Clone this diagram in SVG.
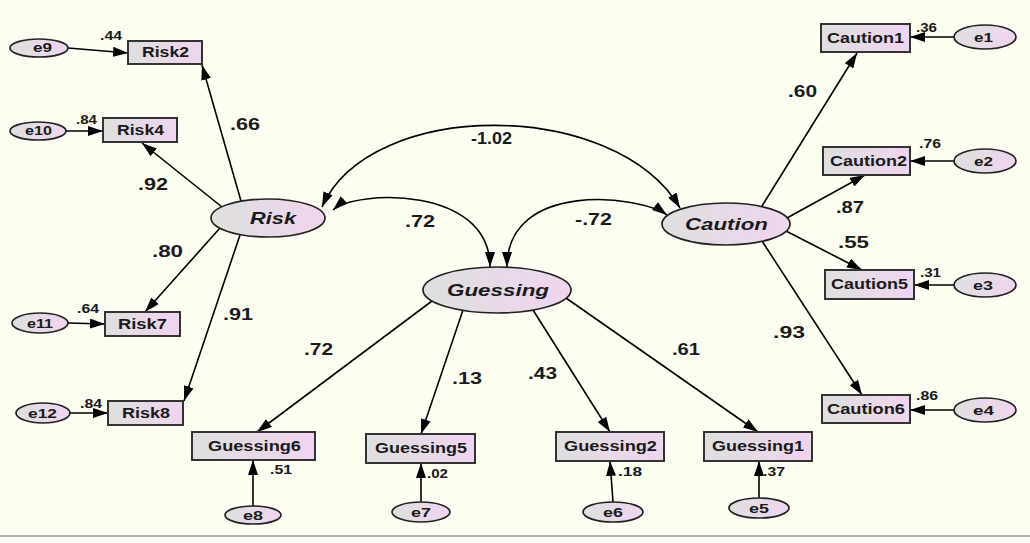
<svg xmlns="http://www.w3.org/2000/svg" width="1030" height="543" viewBox="0 0 1030 543">
<defs>
<linearGradient id="g" x1="0" y1="0" x2="1" y2="0">
<stop offset="0" stop-color="#dfdfdf"/>
<stop offset="1" stop-color="#efd5ef"/>
</linearGradient>
<marker id="ah" viewBox="0 0 15 10" refX="15" refY="5" markerWidth="15" markerHeight="10" markerUnits="userSpaceOnUse" orient="auto-start-reverse">
<path d="M0,0 L15,5 L0,10 z" fill="#000"/>
</marker>
</defs>
<style>
.box{fill:url(#g);stroke:#333;stroke-width:2}
.ell{fill:url(#g);stroke:#222;stroke-width:1.7}
text{font-family:"Liberation Sans",Arial,sans-serif;font-weight:bold;fill:#1a1a1a}
.ind{font-size:14px}
.lat{font-size:17px;font-style:italic}
.err{font-size:13px}
.load{font-size:16px}
.sm{font-size:12px}
.c line,.c path{stroke:#000;stroke-width:1.6;fill:none;marker-end:url(#ah)}
.c path{marker-start:url(#ah)}
</style>
<rect x="0" y="0" width="1030" height="543" fill="#fdfdf1"/>
<rect x="0" y="535" width="1030" height="2" fill="#b4b4ac"/>
<rect x="0" y="537" width="1030" height="6" fill="#fbfbf6"/>

<g id="connectors" class="c">
<path d="M322,207 C370,98 615,98 680,208"/>
<path d="M333,210 C355,190 490,185 490,267"/>
<path d="M507,267 C507,180 640,195 667,215"/>
<line x1="241" y1="201" x2="202" y2="65"/>
<line x1="222" y1="207" x2="142" y2="143"/>
<line x1="220" y1="228" x2="145" y2="312"/>
<line x1="240" y1="235" x2="184" y2="401"/>
<line x1="432" y1="301" x2="257" y2="432"/>
<line x1="463" y1="310" x2="421" y2="434"/>
<line x1="533" y1="310" x2="610" y2="432"/>
<line x1="566" y1="298" x2="758" y2="432"/>
<line x1="762" y1="206" x2="857" y2="53"/>
<line x1="787" y1="218" x2="865" y2="175"/>
<line x1="786" y1="231" x2="862" y2="270"/>
<line x1="762" y1="241" x2="862" y2="395"/>
<line x1="68" y1="48" x2="128" y2="53"/>
<line x1="66" y1="131" x2="103" y2="131"/>
<line x1="68" y1="323" x2="105" y2="324"/>
<line x1="70" y1="413" x2="108" y2="413"/>
<line x1="954" y1="37" x2="910" y2="37"/>
<line x1="954" y1="161" x2="910" y2="161"/>
<line x1="954" y1="285" x2="914" y2="285"/>
<line x1="954" y1="410" x2="910" y2="410"/>
<line x1="253" y1="506" x2="253" y2="460"/>
<line x1="421" y1="502" x2="421" y2="463"/>
<line x1="613" y1="502" x2="610" y2="461"/>
<line x1="759" y1="498" x2="759" y2="461"/>
</g>

<g id="Risk"><ellipse class="ell" cx="268" cy="218" rx="57" ry="19"/><text class="lat" x="250" y="224" textLength="46" lengthAdjust="spacingAndGlyphs">Risk</text></g>
<g id="Guessing"><ellipse class="ell" cx="497" cy="290" rx="74" ry="23"/><text class="lat" x="447" y="296" textLength="102" lengthAdjust="spacingAndGlyphs">Guessing</text></g>
<g id="Caution"><ellipse class="ell" cx="726" cy="224" rx="64" ry="21"/><text class="lat" x="685" y="230" textLength="83" lengthAdjust="spacingAndGlyphs">Caution</text></g>

<g id="Risk2"><rect class="box" x="128" y="41" width="74" height="23"/><text class="ind" x="142" y="57" textLength="47" lengthAdjust="spacingAndGlyphs">Risk2</text></g>
<g id="Risk4"><rect class="box" x="103" y="118" width="74" height="24"/><text class="ind" x="117" y="135" textLength="47" lengthAdjust="spacingAndGlyphs">Risk4</text></g>
<g id="Risk7"><rect class="box" x="105" y="312" width="75" height="24"/><text class="ind" x="118" y="329" textLength="49" lengthAdjust="spacingAndGlyphs">Risk7</text></g>
<g id="Risk8"><rect class="box" x="108" y="401" width="75" height="24"/><text class="ind" x="122" y="418" textLength="48" lengthAdjust="spacingAndGlyphs">Risk8</text></g>

<g id="Guessing6"><rect class="box" x="192" y="432" width="123" height="28"/><text class="ind" x="208" y="451" textLength="93" lengthAdjust="spacingAndGlyphs">Guessing6</text></g>
<g id="Guessing5"><rect class="box" x="366" y="434" width="109" height="29"/><text class="ind" x="375" y="453" textLength="92" lengthAdjust="spacingAndGlyphs">Guessing5</text></g>
<g id="Guessing2"><rect class="box" x="556" y="432" width="108" height="29"/><text class="ind" x="564" y="451" textLength="93" lengthAdjust="spacingAndGlyphs">Guessing2</text></g>
<g id="Guessing1"><rect class="box" x="704" y="432" width="108" height="29"/><text class="ind" x="712" y="451" textLength="92" lengthAdjust="spacingAndGlyphs">Guessing1</text></g>

<g id="Caution1"><rect class="box" x="821" y="24" width="89" height="28"/><text class="ind" x="827" y="43" textLength="77" lengthAdjust="spacingAndGlyphs">Caution1</text></g>
<g id="Caution2"><rect class="box" x="823" y="147" width="87" height="28"/><text class="ind" x="830" y="166" textLength="77" lengthAdjust="spacingAndGlyphs">Caution2</text></g>
<g id="Caution5"><rect class="box" x="825" y="270" width="89" height="29"/><text class="ind" x="831" y="289" textLength="77" lengthAdjust="spacingAndGlyphs">Caution5</text></g>
<g id="Caution6"><rect class="box" x="822" y="395" width="88" height="28"/><text class="ind" x="827" y="414" textLength="78" lengthAdjust="spacingAndGlyphs">Caution6</text></g>

<g id="e9"><ellipse class="ell" cx="39" cy="48" rx="29" ry="9"/><text class="err" x="33" y="52" textLength="19" lengthAdjust="spacingAndGlyphs">e9</text></g>
<g id="e10"><ellipse class="ell" cx="38" cy="131" rx="28" ry="9"/><text class="err" x="25" y="135" textLength="27" lengthAdjust="spacingAndGlyphs">e10</text></g>
<g id="e11"><ellipse class="ell" cx="40" cy="323" rx="28" ry="10"/><text class="err" x="27" y="328" textLength="26" lengthAdjust="spacingAndGlyphs">e11</text></g>
<g id="e12"><ellipse class="ell" cx="43" cy="413" rx="27" ry="10"/><text class="err" x="28" y="418" textLength="29" lengthAdjust="spacingAndGlyphs">e12</text></g>
<g id="e1"><ellipse class="ell" cx="985" cy="37" rx="31" ry="12"/><text class="err" x="974" y="42" textLength="19" lengthAdjust="spacingAndGlyphs">e1</text></g>
<g id="e2"><ellipse class="ell" cx="985" cy="161" rx="31" ry="12"/><text class="err" x="974" y="166" textLength="19" lengthAdjust="spacingAndGlyphs">e2</text></g>
<g id="e3"><ellipse class="ell" cx="985" cy="285" rx="31" ry="12"/><text class="err" x="973" y="290" textLength="20" lengthAdjust="spacingAndGlyphs">e3</text></g>
<g id="e4"><ellipse class="ell" cx="985" cy="410" rx="31" ry="12"/><text class="err" x="973" y="415" textLength="21" lengthAdjust="spacingAndGlyphs">e4</text></g>
<g id="e8"><ellipse class="ell" cx="253" cy="515" rx="28" ry="9"/><text class="err" x="243" y="520" textLength="20" lengthAdjust="spacingAndGlyphs">e8</text></g>
<g id="e7"><ellipse class="ell" cx="421" cy="512" rx="29" ry="10"/><text class="err" x="411" y="517" textLength="20" lengthAdjust="spacingAndGlyphs">e7</text></g>
<g id="e6"><ellipse class="ell" cx="613" cy="512" rx="30" ry="10"/><text class="err" x="603" y="517" textLength="20" lengthAdjust="spacingAndGlyphs">e6</text></g>
<g id="e5"><ellipse class="ell" cx="759" cy="508" rx="30" ry="10"/><text class="err" x="749" y="513" textLength="20" lengthAdjust="spacingAndGlyphs">e5</text></g>

<g id="labels">
<text class="load" x="471" y="144" textLength="41" lengthAdjust="spacingAndGlyphs">-1.02</text>
<text class="load" x="405" y="227" textLength="30" lengthAdjust="spacingAndGlyphs">.72</text>
<text class="load" x="575" y="225" textLength="37" lengthAdjust="spacingAndGlyphs">-.72</text>
<text class="load" x="230" y="130" textLength="30" lengthAdjust="spacingAndGlyphs">.66</text>
<text class="load" x="138" y="190" textLength="30" lengthAdjust="spacingAndGlyphs">.92</text>
<text class="load" x="152" y="257" textLength="31" lengthAdjust="spacingAndGlyphs">.80</text>
<text class="load" x="223" y="320" textLength="30" lengthAdjust="spacingAndGlyphs">.91</text>
<text class="load" x="304" y="355" textLength="29" lengthAdjust="spacingAndGlyphs">.72</text>
<text class="load" x="452" y="384" textLength="30" lengthAdjust="spacingAndGlyphs">.13</text>
<text class="load" x="528" y="379" textLength="29" lengthAdjust="spacingAndGlyphs">.43</text>
<text class="load" x="672" y="355" textLength="28" lengthAdjust="spacingAndGlyphs">.61</text>
<text class="load" x="788" y="97" textLength="29" lengthAdjust="spacingAndGlyphs">.60</text>
<text class="load" x="836" y="213" textLength="28" lengthAdjust="spacingAndGlyphs">.87</text>
<text class="load" x="838" y="248" textLength="31" lengthAdjust="spacingAndGlyphs">.55</text>
<text class="load" x="773" y="338" textLength="32" lengthAdjust="spacingAndGlyphs">.93</text>
<text class="sm" x="100" y="40" textLength="22" lengthAdjust="spacingAndGlyphs">.44</text>
<text class="sm" x="76" y="124" textLength="21" lengthAdjust="spacingAndGlyphs">.84</text>
<text class="sm" x="77" y="313" textLength="22" lengthAdjust="spacingAndGlyphs">.64</text>
<text class="sm" x="80" y="408" textLength="22" lengthAdjust="spacingAndGlyphs">.84</text>
<text class="sm" x="916" y="32" textLength="21" lengthAdjust="spacingAndGlyphs">.36</text>
<text class="sm" x="919" y="148" textLength="22" lengthAdjust="spacingAndGlyphs">.76</text>
<text class="sm" x="920" y="277" textLength="21" lengthAdjust="spacingAndGlyphs">.31</text>
<text class="sm" x="916" y="400" textLength="22" lengthAdjust="spacingAndGlyphs">.86</text>
<text class="sm" x="270" y="474" textLength="22" lengthAdjust="spacingAndGlyphs">.51</text>
<text class="sm" x="427" y="478" textLength="21" lengthAdjust="spacingAndGlyphs">.02</text>
<text class="sm" x="618" y="476" textLength="24" lengthAdjust="spacingAndGlyphs">.18</text>
<text class="sm" x="763" y="476" textLength="22" lengthAdjust="spacingAndGlyphs">.37</text>
</g>
</svg>
